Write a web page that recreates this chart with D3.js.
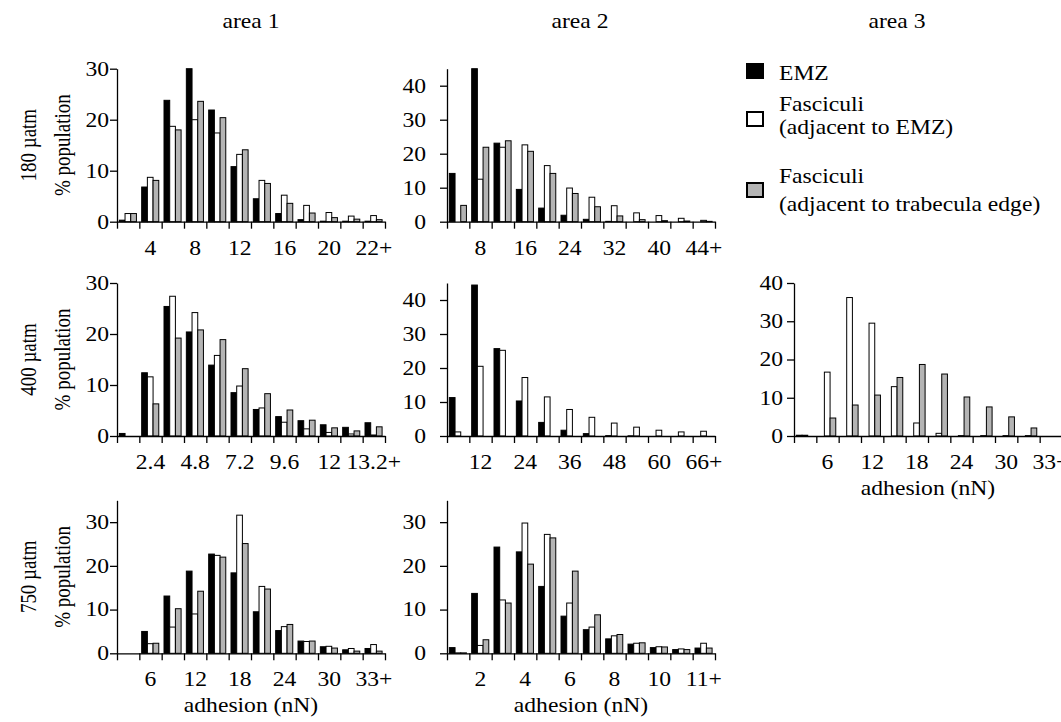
<!DOCTYPE html>
<html>
<head>
<meta charset="utf-8">
<script src="https://cdn.jsdelivr.net/npm/d3@7"></script>
<style>
  body { margin: 0; background: #fff; }
  svg text { font-family: "Liberation Serif", "Times New Roman", serif; font-size: 20px; fill: #000; }
  .axis path, .axis line { stroke: #000; stroke-width: 1.3; }
</style>
</head>
<body>
<div id="chart"></div>
<script>
const areaNames     = ["area 1", "area 2", "area 3"];
const pressureNames = ["180 µatm", "400 µatm", "750 µatm"];
const seriesNames   = ["EMZ", "Fasciculi|(adjacent to EMZ)", "Fasciculi|(adjacent to trabecula edge)"];
const seriesFill    = ["#000", "#fff", "#b4b4b4"];

// x tick labels (one per bin, blank where unlabelled)
const lab_a1_180 = ["", "4", "", "8", "", "12", "", "16", "", "20", "", "22+"];
const lab_a2_180 = ["", "8", "", "16", "", "24", "", "32", "", "40", "", "44+"];
const lab_a1_400 = ["", "2.4", "", "4.8", "", "7.2", "", "9.6", "", "12", "", "13.2+"];
const lab_a2_400 = ["", "12", "", "24", "", "36", "", "48", "", "60", "", "66+"];
const lab_a3_400 = ["", "6", "", "12", "", "18", "", "24", "", "30", "", "33+"];
const lab_a1_750 = ["", "6", "", "12", "", "18", "", "24", "", "30", "", "33+"];
const lab_a2_750 = ["", "2", "", "4", "", "6", "", "8", "", "10", "", "11+"];

// % population per bin
const emz_a1_180 = [0.3, 6.8, 23.8, 30, 21.9, 10.8, 4.5, 1.6, 0.4, 0.1, 0.1, 0.1];
const fe_a1_180  = [1.6, 8.7, 18.7, 20.0, 17.4, 13.2, 8.1, 5.2, 3.2, 1.8, 1.1, 1.2];
const ft_a1_180  = [1.6, 8.1, 18.0, 23.6, 20.4, 14.1, 7.5, 3.6, 1.7, 0.8, 0.5, 0.4];

const emz_a2_180 = [14.2, 45, 23.1, 9.5, 4.0, 1.9, 0.7, 0.1, 0, 0, 0, 0];
const fe_a2_180  = [0, 12.5, 21.9, 22.6, 16.5, 9.9, 7.2, 4.7, 2.6, 1.8, 1.0, 0.4];
const ft_a2_180  = [4.8, 21.9, 23.8, 20.7, 14.2, 8.3, 4.4, 1.7, 0.6, 0.3, 0.2, 0.1];

const emz_a1_400 = [0.5, 12.4, 25.4, 20.4, 13.9, 8.5, 5.2, 3.8, 3.0, 2.2, 1.7, 2.6];
const fe_a1_400  = [0, 11.6, 27.4, 24.2, 15.8, 9.8, 5.5, 2.7, 1.4, 0.7, 0.4, 0.2];
const ft_a1_400  = [0, 6.3, 19.2, 20.8, 18.9, 13.2, 8.3, 5.1, 3.1, 1.6, 1.0, 1.8];

const emz_a2_400 = [11.3, 44.4, 25.7, 10.3, 4.0, 1.7, 0.7, 0.1, 0.05, 0, 0, 0];
const fe_a2_400  = [1.2, 20.5, 25.2, 17.2, 11.5, 7.8, 5.5, 3.8, 2.6, 1.7, 1.2, 1.4];
const ft_a2_400  = [0, 0, 0, 0, 0, 0, 0, 0, 0, 0, 0, 0];

const emz_a3_400 = [0.2, 0, 0, 0, 0, 0, 0, 0, 0, 0, 0, 0];
const fe_a3_400  = [0.2, 16.7, 36.2, 29.5, 12.9, 3.4, 0.7, 0.1, 0.1, 0.1, 0.1, 0];
const ft_a3_400  = [0, 4.7, 8.1, 10.7, 15.3, 18.7, 16.2, 10.2, 7.6, 5.0, 2.1, 0];

const emz_a1_750 = [0, 5.0, 13.1, 18.8, 22.7, 18.4, 9.5, 5.2, 2.8, 1.5, 0.8, 1.1];
const fe_a1_750  = [0, 2.2, 6.0, 9.0, 22.4, 31.6, 15.3, 6.1, 2.7, 1.6, 1.1, 2.0];
const ft_a1_750  = [0, 2.3, 10.2, 14.2, 22.0, 25.1, 14.7, 6.6, 2.8, 1.2, 0.5, 0.5];

const emz_a2_750 = [1.3, 13.7, 24.3, 23.2, 15.3, 8.5, 5.4, 3.3, 2.1, 1.3, 0.85, 1.2];
const fe_a2_750  = [0.1, 1.8, 12.2, 29.8, 27.2, 11.5, 6.0, 4.0, 2.3, 1.5, 1.0, 2.3];
const ft_a2_750  = [0.1, 3.1, 11.5, 20.4, 26.4, 18.8, 8.8, 4.3, 2.4, 1.45, 0.85, 1.2];

const panels = [
  { row: 0, col: 0, ymax: 30, yticks: [0, 10, 20, 30],     labels: lab_a1_180, series: [emz_a1_180, fe_a1_180, ft_a1_180] },
  { row: 0, col: 1, ymax: 45, yticks: [0, 10, 20, 30, 40], labels: lab_a2_180, series: [emz_a2_180, fe_a2_180, ft_a2_180] },
  { row: 1, col: 0, ymax: 30, yticks: [0, 10, 20, 30],     labels: lab_a1_400, series: [emz_a1_400, fe_a1_400, ft_a1_400] },
  { row: 1, col: 1, ymax: 45, yticks: [0, 10, 20, 30, 40], labels: lab_a2_400, series: [emz_a2_400, fe_a2_400, ft_a2_400] },
  { row: 1, col: 2, ymax: 40, yticks: [0, 10, 20, 30, 40], labels: lab_a3_400, series: [emz_a3_400, fe_a3_400, ft_a3_400], xTitle: true },
  { row: 2, col: 0, ymax: 35, yticks: [0, 10, 20, 30],     labels: lab_a1_750, series: [emz_a1_750, fe_a1_750, ft_a1_750], xTitle: true },
  { row: 2, col: 1, ymax: 35, yticks: [0, 10, 20, 30],     labels: lab_a2_750, series: [emz_a2_750, fe_a2_750, ft_a2_750], xTitle: true }
];

const W = 1061, H = 722;
const SX = 1.18;                 // source lettering is a little wide
const colX   = [117, 447, 794];
const rowY   = [221.7, 436, 653.3];
const pw = 268, ph = 153;
const yPad   = [1, 14, 4];
const titleX = [251, 580, 897];

const svg = d3.select("#chart").append("svg")
  .attr("width", W).attr("height", H);

panels.forEach(p => {
  const nb = p.labels.length;
  const g = svg.append("g").attr("transform", `translate(${colX[p.col]},${rowY[p.row]})`);

  const x    = d3.scaleLinear().domain([0, nb]).range([0, pw]);
  const band = d3.scaleBand().domain(d3.range(nb)).range([0, pw]);
  const y    = d3.scaleLinear().domain([0, p.ymax]).range([0, -ph]);
  const bw   = band.bandwidth();

  p.series.forEach((vals, s) => {
    g.selectAll(null)
      .data(vals.map((v, i) => ({ v, i })).filter(d => d.v > 0))
      .join("rect")
        .attr("x", d => band(d.i) + bw * (0.105 + 0.255 * s))
        .attr("y", d => y(d.v))
        .attr("width", bw * 0.255)
        .attr("height", d => -y(d.v))
        .attr("fill", seriesFill[s])
        .attr("stroke", "#000")
        .attr("stroke-width", 1);
  });

  g.append("g").attr("class", "axis")
    .call(d3.axisBottom(x).tickValues(d3.range(nb + 1)).tickSize(7).tickSizeOuter(0).tickFormat(""));

  const lab = g.append("g").attr("class", "axis")
    .call(d3.axisBottom(band).tickSize(0).tickPadding(19).tickFormat(i => p.labels[i]));
  lab.select(".domain").remove();

  g.append("g").attr("class", "axis")
    .call(d3.axisLeft(y).tickValues(p.yticks).tickSize(7).tickSizeOuter(0).tickPadding(yPad[p.col]));

  if (p.xTitle) {
    g.append("text")
      .attr("x", pw / 2)
      .attr("y", 59)
      .attr("text-anchor", "middle")
      .text("adhesion (nN)");
  }
});

svg.selectAll(".axis").attr("font-size", null).attr("font-family", null);

areaNames.forEach((t, i) => {
  svg.append("text")
    .attr("x", titleX[i])
    .attr("y", 28)
    .attr("text-anchor", "middle")
    .text(t);
});

// legend
const legX = 747, legTextX = 779;
const legBoxY  = [64, 112, 183];
const legLineY = [[80], [111, 134], [183, 211]];
seriesNames.forEach((name, i) => {
  svg.append("rect")
    .attr("x", legX).attr("y", legBoxY[i])
    .attr("width", 16).attr("height", 14)
    .attr("fill", seriesFill[i])
    .attr("stroke", "#000").attr("stroke-width", 2);
  name.split("|").forEach((line, j) => {
    svg.append("text")
      .attr("x", legTextX)
      .attr("y", legLineY[i][j])
      .text(line);
  });
});

// widen all horizontal text
svg.selectAll("text").each(function() {
  const t = d3.select(this);
  const x0 = +t.attr("x") || 0;
  t.attr("x", x0 / SX).attr("transform", `scale(${SX},1)`);
});

// row labels (rotated)
pressureNames.forEach((name, i) => {
  const yc = rowY[i] - ph / 2;
  [[name, 36], ["% population", 70]].forEach(([txt, bx]) => {
    svg.append("text")
      .attr("transform", `translate(${bx},${yc}) scale(${SX},1) rotate(-90)`)
      .attr("text-anchor", "middle")
      .style("font-size", "19px")
      .text(txt);
  });
});
</script>
</body>
</html>
